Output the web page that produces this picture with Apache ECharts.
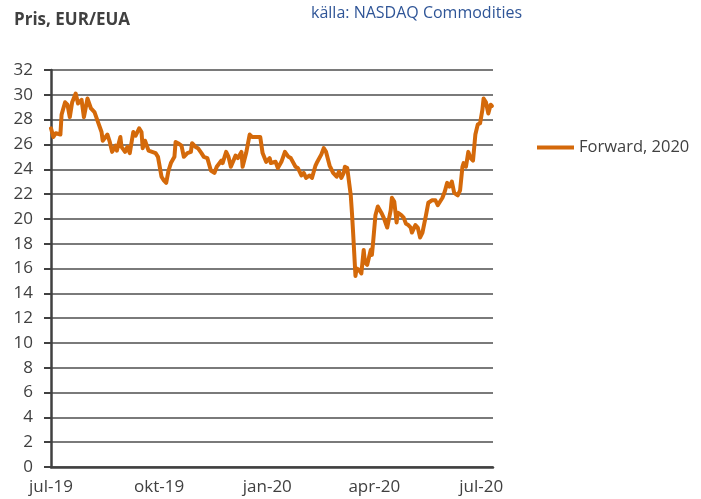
<!DOCTYPE html>
<html>
<head>
<meta charset="utf-8">
<script src="https://cdn.jsdelivr.net/npm/echarts@6/dist/echarts.min.js"></script>
<style>
html,body{margin:0;padding:0;background:#fff;}
#chart{width:701px;height:499px;}
</style>
</head>
<body>
<div id="chart"></div>
<script>
const dates = [
'2019-07-01','2019-07-03','2019-07-05','2019-07-09','2019-07-10','2019-07-13','2019-07-15','2019-07-17','2019-07-19','2019-07-22',
'2019-07-24','2019-07-27','2019-07-29','2019-08-01','2019-08-04','2019-08-07','2019-08-10','2019-08-13','2019-08-14','2019-08-18',
'2019-08-20','2019-08-22','2019-08-25','2019-08-26','2019-08-29','2019-08-30','2019-09-02','2019-09-04','2019-09-06','2019-09-09',
'2019-09-11','2019-09-14','2019-09-16','2019-09-17','2019-09-19','2019-09-22','2019-09-23','2019-09-28','2019-09-30','2019-10-03',
'2019-10-05','2019-10-07','2019-10-09','2019-10-11','2019-10-14','2019-10-15','2019-10-17','2019-10-20','2019-10-22','2019-10-25',
'2019-10-28','2019-10-29','2019-11-01','2019-11-03','2019-11-06','2019-11-08','2019-11-11','2019-11-14','2019-11-17','2019-11-19',
'2019-11-23','2019-11-24','2019-11-27','2019-11-29','2019-12-01','2019-12-05','2019-12-07','2019-12-10','2019-12-11','2019-12-14',
'2019-12-17','2019-12-19','2019-12-23','2019-12-26','2019-12-28','2019-12-31','2020-01-03','2020-01-04','2020-01-08','2020-01-10',
'2020-01-13','2020-01-16','2020-01-19','2020-01-21','2020-01-25','2020-01-27','2020-01-30','2020-02-01','2020-02-03','2020-02-06',
'2020-02-08','2020-02-11','2020-02-12','2020-02-16','2020-02-18','2020-02-20','2020-02-23','2020-02-26','2020-02-29','2020-03-02',
'2020-03-04','2020-03-06','2020-03-07','2020-03-09','2020-03-12','2020-03-13','2020-03-14','2020-03-16','2020-03-17','2020-03-19',
'2020-03-21','2020-03-23','2020-03-24','2020-03-26','2020-03-29','2020-03-30','2020-03-31','2020-04-02','2020-04-04','2020-04-07',
'2020-04-09','2020-04-12','2020-04-15','2020-04-16','2020-04-18','2020-04-20','2020-04-21','2020-04-24','2020-04-26','2020-04-28',
'2020-04-30','2020-05-02','2020-05-03','2020-05-06','2020-05-08','2020-05-10','2020-05-12','2020-05-15','2020-05-17','2020-05-20',
'2020-05-23','2020-05-25','2020-05-29','2020-05-31','2020-06-02','2020-06-04','2020-06-06','2020-06-08','2020-06-11','2020-06-13',
'2020-06-15','2020-06-16','2020-06-18','2020-06-20','2020-06-22','2020-06-24','2020-06-26','2020-06-28','2020-06-30','2020-07-02',
'2020-07-03','2020-07-05','2020-07-07','2020-07-09','2020-07-10'
];
const forward = [
27.3,26.6,26.9,26.8,28.4,29.4,29.2,28.2,29.4,30.1,
29.3,29.6,28.2,29.7,28.9,28.6,27.8,27.0,26.3,26.8,
26.2,25.4,25.9,25.5,26.6,25.8,25.4,25.8,25.3,27.0,
26.7,27.3,27.0,25.7,26.3,25.5,25.5,25.3,25.0,23.4,
23.1,22.9,23.9,24.5,25.0,26.2,26.1,25.9,25.0,25.3,
25.4,26.1,25.8,25.7,25.3,25.0,24.9,23.9,23.7,24.2,
24.7,24.5,25.4,25.0,24.2,25.1,24.9,25.4,24.2,25.3,
26.8,26.6,26.6,26.6,25.3,24.6,24.9,24.5,24.6,24.1,
24.6,25.4,25.0,24.9,24.2,24.1,23.5,23.7,23.3,23.5,
23.3,24.3,24.5,25.2,25.7,25.4,24.3,23.7,23.4,23.8,
23.3,23.7,24.2,24.1,21.9,20.5,18.9,15.4,16.0,15.9,
15.6,17.5,16.5,16.3,17.5,17.1,18.1,20.3,21.0,20.5,
20.1,19.3,20.7,21.7,21.4,19.7,20.5,20.3,20.1,19.6,
19.5,19.3,18.9,19.5,19.3,18.5,18.9,20.3,21.3,21.5,
21.5,21.1,21.7,22.2,22.9,22.6,23.0,22.1,21.9,22.3,
24.2,24.5,24.2,25.4,24.9,24.7,26.8,27.6,27.7,28.8,
29.7,29.4,28.5,29.2,29.1
];
const xTickDates = ['2019-07-01','2019-10-01','2020-01-01','2020-04-01','2020-07-01'];
const xTickLabels = ['jul-19','okt-19','jan-20','apr-20','jul-20'];
const xStart = '2019-07-01';
const xEnd = '2020-07-11';
const seriesName = 'Forward, 2020';
const titleText = 'Pris, EUR/EUA';
const sourceText = 'källa: NASDAQ Commodities';

// day offset from xStart (UTC, avoids DST issues)
function day(s){ const p = s.split('-').map(Number); return Math.round((Date.UTC(p[0], p[1]-1, p[2]) - Date.UTC(2019,6,1)) / 86400000); }
const tickDays = xTickDates.map(day);
const FONT = 'Open Sans';
const chart = echarts.init(document.getElementById('chart'), null, {renderer:'canvas'});
chart.setOption({
  animation:false,
  backgroundColor:'#fff',
  textStyle:{fontFamily:FONT},
  title:[
    {text:titleText, left:9, top:7, textStyle:{fontFamily:FONT, fontSize:17, fontWeight:'bold', color:'#404040'}},
    {text:sourceText, left:306, top:0, textStyle:{fontFamily:FONT, fontSize:16, fontWeight:'normal', color:'#2f5597'}}
  ],
  legend:{
    orient:'vertical', left:532, top:134,
    icon:'rect', itemWidth:37, itemHeight:4, itemGap:10,
    textStyle:{fontFamily:FONT, fontSize:16.5, color:'#404040'},
    data:[seriesName]
  },
  grid:{left:51, right:208, top:70, bottom:32, containLabel:false},
  xAxis:{
    type:'value', min:day(xStart), max:day(xEnd),
    axisLine:{show:true, onZero:false, lineStyle:{color:'#404040', width:2.5}},
    axisTick:{show:false},
    splitLine:{show:false},
    axisLabel:{
      customValues:tickDays, showMinLabel:true, showMaxLabel:true,
      fontFamily:FONT, fontSize:17, color:'#404040', margin:12,
      formatter:function(v){
        const i = tickDays.indexOf(Math.round(v));
        return i >= 0 ? xTickLabels[i] : '';
      }
    }
  },
  yAxis:{
    type:'value', min:0, max:32, interval:2,
    axisLine:{show:true, lineStyle:{color:'#404040', width:2.5}},
    axisTick:{show:true, length:7, lineStyle:{color:'#404040', width:2}},
    splitLine:{show:true, lineStyle:{color:'#7a7a7a', width:2}},
    axisLabel:{fontFamily:FONT, fontSize:17, color:'#404040', margin:18}
  },
  series:[{
    name:seriesName, type:'line', showSymbol:false, symbol:'none',
    data:dates.map((d,i)=>[day(d), forward[i]]),
    lineStyle:{color:'#d4690a', width:4, join:'round', cap:'round'},
    itemStyle:{color:'#d4690a'}
  }]
});
</script>
</body>
</html>
